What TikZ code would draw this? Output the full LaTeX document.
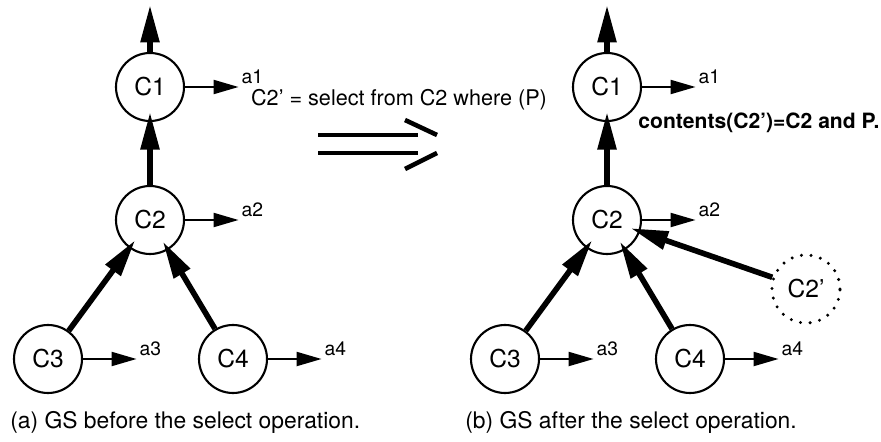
\documentclass[tikz,border=0pt]{standalone}
\usepackage{fontspec}
\setmainfont{TeX Gyre Heros}
\usetikzlibrary{arrows.meta,positioning}

\begin{document}
\begin{tikzpicture}[
        cls/.style={circle, draw=black, line width=1.2pt, minimum size=1.36cm, inner sep=0pt, font=\fontsize{14}{16}\selectfont},
        newcls/.style={cls, line width=1.9pt, dash pattern=on 0pt off 5.5pt, line cap=round},
        attr/.style={inner sep=1.5pt, anchor=south west, font=\fontsize{11}{13}\selectfont},
        caption/.style={anchor=base west, inner sep=0pt, font=\fontsize{13}{15}\selectfont},
        arrow/.style={line width=1.2pt, -{Triangle[length=0.5cm,width=0.28cm]}},
        bigarrow/.style={line width=3.2pt, -{Triangle[length=0.75cm,width=0.36cm]}, shorten >=-0.2cm},
        implies/.style={line width=2.6pt}
    ]
        \useasboundingbox (0,0) rectangle (17.62,-8.84);

        % before
        \node (c1) [cls] at (3.0,-1.74) {C1};
        \node (c2) [cls] at (3.0,-4.40) {C2};
        \node (c3) [cls] at (0.96,-7.18) {C3};
        \node (c4) [cls] at (4.66,-7.18) {C4};
        \coordinate (out1) at (3.0,-0.1);
        \node (a1) [right=1.07cm of c1.east, attr] {a1};
        \node (a2) [right=1.07cm of c2.east, attr] {a2};
        \node (a3) [right=1.07cm of c3.east, attr] {a3};
        \node (a4) [right=1.07cm of c4.east, attr] {a4};

        \draw[bigarrow, shorten >=0pt] (c1) -- (out1);
        \draw[bigarrow] (c2) -- (c1);
        \draw[bigarrow] (c3) -- (c2);
        \draw[bigarrow] (c4) -- (c2);
        \draw[arrow] (c1) -- (a1.south west);
        \draw[arrow] (c2) -- (a2.south west);
        \draw[arrow] (c3) -- (a3.south west);
        \draw[arrow] (c4) -- (a4.south west);

        % the select step
        \node (sel) [font=\fontsize{12.3}{14}\selectfont] at (7.98,-2.0) {C2' = select from C2 where (P)};
        \draw[implies] (6.36,-2.7) -- (8.36,-2.7);
        \draw[implies] (6.36,-3.06) -- (8.36,-3.06);
        \draw[implies] (8.1,-2.4) -- (8.74,-2.7);
        \draw[implies] (8.74,-3.06) -- (8.1,-3.38);

        % after
        \node (d1) [cls] at (12.14,-1.74) {C1};
        \node (d2) [cls] at (12.14,-4.40) {C2};
        \node (d3) [cls] at (10.1,-7.18) {C3};
        \node (d4) [cls] at (13.8,-7.18) {C4};
        \node (d5) [newcls] at (16.12,-5.78) {C2'};
        \coordinate (out2) at (12.14,-0.1);
        \node (b1) [right=1.07cm of d1.east, attr] {a1};
        \node (b2) [right=1.07cm of d2.east, attr] {a2};
        \node (b3) [right=1.07cm of d3.east, attr] {a3};
        \node (b4) [right=1.07cm of d4.east, attr] {a4};
        \node (cont) [font=\fontsize{12}{14}\selectfont\bfseries] at (15.18,-2.46) {contents(C2')=C2 and P.};

        \draw[bigarrow, shorten >=0pt] (d1) -- (out2);
        \draw[bigarrow] (d2) -- (d1);
        \draw[bigarrow] (d3) -- (d2);
        \draw[bigarrow] (d4) -- (d2);
        \draw[bigarrow] (d5) -- (d2);
        \draw[arrow] (d1) -- (b1.south west);
        \draw[arrow] (d2) -- (b2.south west);
        \draw[arrow] (d3) -- (b3.south west);
        \draw[arrow] (d4) -- (b4.south west);

        \node (capa) [caption] at (0.2,-8.56) {(a) GS before the select operation.};
        \node (capb) [caption] at (9.3,-8.56) {(b) GS after the select operation.};
    \end{tikzpicture}
\end{document}
